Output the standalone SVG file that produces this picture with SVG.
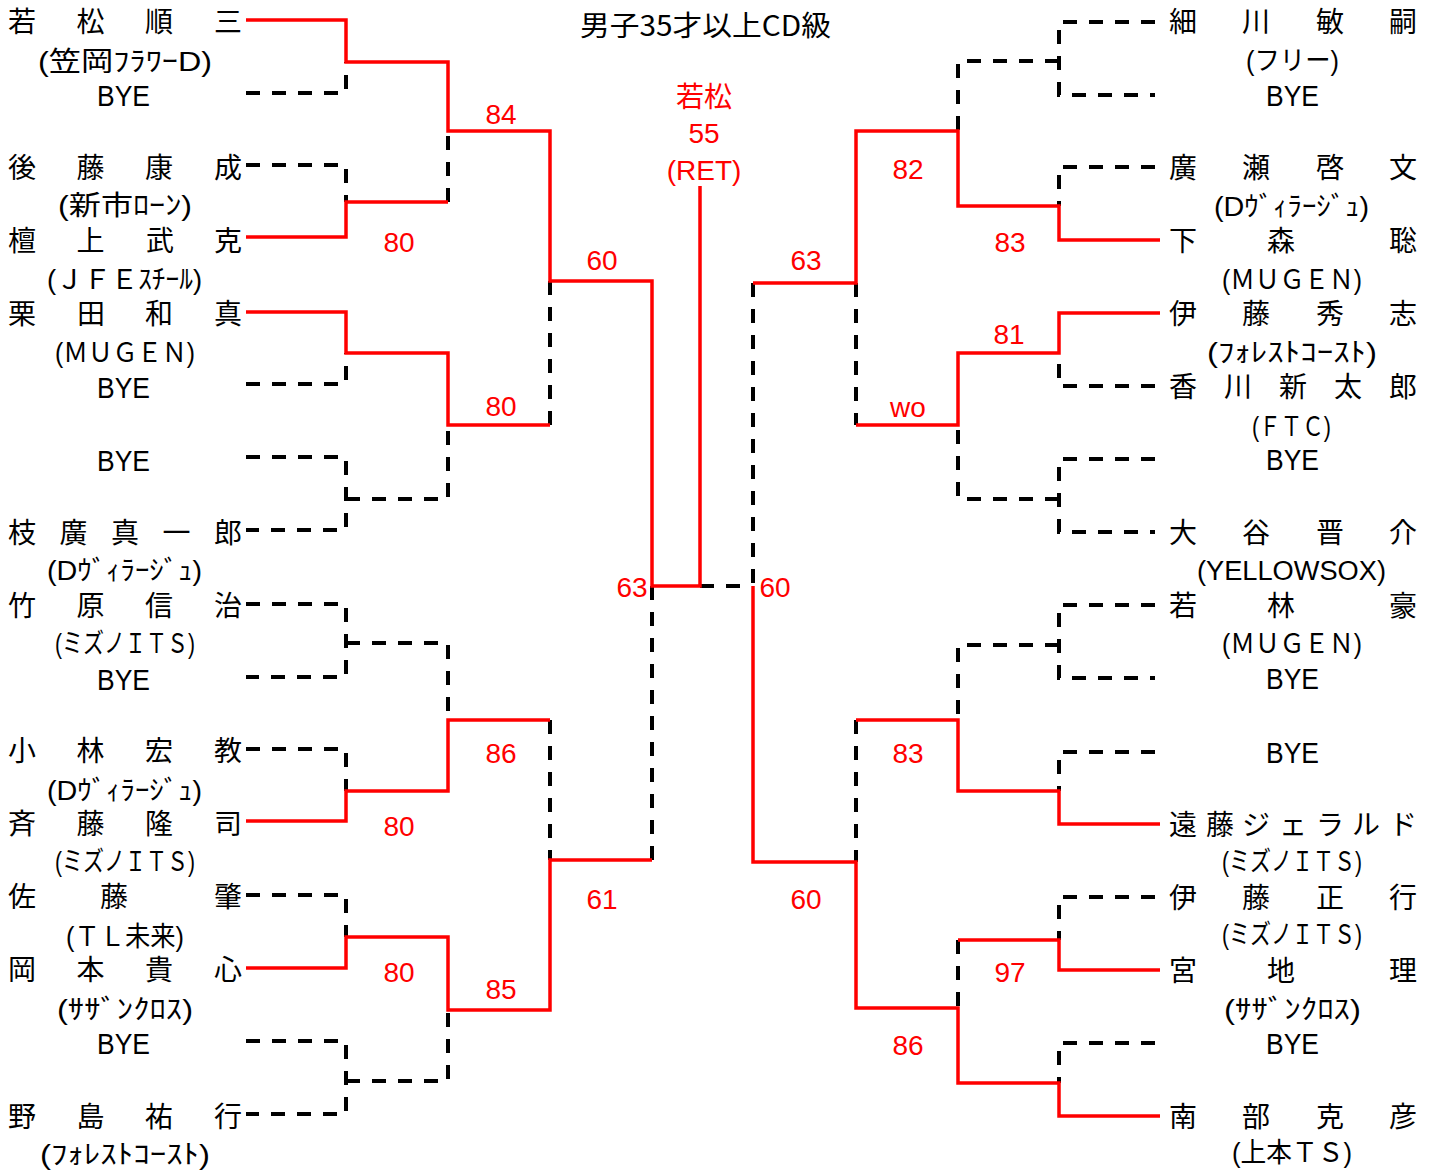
<svg xmlns="http://www.w3.org/2000/svg" width="1434" height="1175" viewBox="0 0 1434 1175">
<style>
.nm{font-family:"Liberation Sans","Noto Sans CJK JP","Noto Sans CJK SC",sans-serif;font-size:28px;fill:#000;dominant-baseline:central}
.af{font-family:"Liberation Sans","Noto Sans CJK JP","Noto Sans CJK SC",sans-serif;font-size:27px;fill:#000;dominant-baseline:central}
.bye{font-family:"Liberation Sans",Arial,sans-serif;font-size:29px;fill:#000;dominant-baseline:central}
.sc{font-family:"Liberation Sans",Arial,sans-serif;font-size:28px;fill:#f00;dominant-baseline:central;text-anchor:middle}
.scj{font-family:"Liberation Sans","Noto Sans CJK JP",sans-serif;font-size:28px;fill:#f00;dominant-baseline:central;text-anchor:middle}
.ttl{font-family:"Noto Sans CJK JP",sans-serif;font-size:28px;fill:#000;dominant-baseline:central}
.win{fill:none;stroke:#f00;stroke-width:3.5;stroke-linejoin:miter}
.lose{fill:none;stroke:#000;stroke-width:4;stroke-dasharray:14 12}
</style>
<rect width="1434" height="1175" fill="#fff"/>
<g id="title"><text class="ttl" x="580" y="24" textLength="251" lengthAdjust="spacingAndGlyphs">男子35才以上CD級</text></g>
<g id="connectors">
<g id="losers">
<path class="lose" d="M246,93 H346 V62"/>
<path class="lose" d="M246,165 H346 V202"/>
<path class="lose" d="M448,202 V131"/>
<path class="lose" d="M246,384 H346 V353"/>
<path class="lose" d="M246,457 H346 V530 H246"/>
<path class="lose" d="M346,499 H448 V425"/>
<path class="lose" d="M550,281 V425"/>
<path class="lose" d="M246,604 H346 V677 H246"/>
<path class="lose" d="M346,643 H448 V720"/>
<path class="lose" d="M246,749 H346 V791"/>
<path class="lose" d="M550,720 V860"/>
<path class="lose" d="M246,895 H346 V937"/>
<path class="lose" d="M246,1041 H346 V1114 H246"/>
<path class="lose" d="M346,1081 H448 V1010"/>
<path class="lose" d="M652,586 V860"/>
<path class="lose" d="M700,586 H752"/>
<path class="lose" d="M1155,22 H1059 V95 H1155"/>
<path class="lose" d="M1059,61 H958 V131"/>
<path class="lose" d="M1155,167 H1059 V206"/>
<path class="lose" d="M856,283 V425"/>
<path class="lose" d="M1155,386 H1059 V353"/>
<path class="lose" d="M1155,459 H1059 V532 H1155"/>
<path class="lose" d="M1059,499 H958 V425"/>
<path class="lose" d="M753,283 V586"/>
<path class="lose" d="M1155,605 H1059 V678 H1155"/>
<path class="lose" d="M1059,645 H958 V720"/>
<path class="lose" d="M1155,752 H1059 V791"/>
<path class="lose" d="M856,720 V862"/>
<path class="lose" d="M1155,897 H1059 V940"/>
<path class="lose" d="M958,940 V1008"/>
<path class="lose" d="M1155,1043 H1059 V1083"/>
</g>
<g id="winners">
<path class="win" d="M246,20 H346 V62 H448 V131 H550 V281 H652 V586 H700 V186"/>
<path class="win" d="M246,237 H346 V202 H448"/>
<path class="win" d="M246,312 H346 V353 H448 V425 H550"/>
<path class="win" d="M246,821 H346 V791 H448 V720 H550"/>
<path class="win" d="M246,968 H346 V937 H448 V1010 H550 V860 H652"/>
<path class="win" d="M1160,240 H1059 V206 H958 V131 H856 V283 H753"/>
<path class="win" d="M1160,313 H1059 V353 H958 V425 H856"/>
<path class="win" d="M1160,824 H1059 V791 H958 V720 H856"/>
<path class="win" d="M1160,970 H1059 V940 H958"/>
<path class="win" d="M1160,1116 H1059 V1083 H958 V1008 H856 V862 H753 V586"/>
</g>
<g id="scores">
<text class="sc" x="501" y="114">84</text>
<text class="sc" x="399" y="242">80</text>
<text class="sc" x="602" y="260">60</text>
<text class="sc" x="501" y="406">80</text>
<text class="sc" x="501" y="753">86</text>
<text class="sc" x="399" y="826">80</text>
<text class="sc" x="399" y="972">80</text>
<text class="sc" x="501" y="989">85</text>
<text class="sc" x="602" y="899">61</text>
<text class="sc" x="632" y="587">63</text>
<text class="sc" x="908" y="169">82</text>
<text class="sc" x="1010" y="242">83</text>
<text class="sc" x="806" y="260">63</text>
<text class="sc" x="1009" y="334">81</text>
<text class="sc" x="908" y="407">wo</text>
<text class="sc" x="775" y="587">60</text>
<text class="sc" x="908" y="753">83</text>
<text class="sc" x="1010" y="972">97</text>
<text class="sc" x="908" y="1045">86</text>
<text class="sc" x="806" y="899">60</text>
</g>
</g>
<g id="champion">
<text class="scj" x="704" y="97">若松</text>
<text class="sc" x="704" y="133">55</text>
<text class="sc" x="704" y="170">(RET)</text>
</g>
<g id="L1"><text class="nm" x="8 76.5 145 214" y="22">若松順三</text><text class="af" x="38" y="62" textLength="174" lengthAdjust="spacingAndGlyphs">(笠岡ﾌﾗﾜｰD)</text></g>
<g id="L2"><text class="bye" x="97" y="96" textLength="53" lengthAdjust="spacingAndGlyphs">BYE</text></g>
<g id="L3"><text class="nm" x="8 76.5 145 214" y="168">後藤康成</text><text class="af" x="58" y="206" textLength="134" lengthAdjust="spacingAndGlyphs">(新市ﾛｰﾝ)</text></g>
<g id="L4"><text class="nm" x="8 76.5 146 214" y="241">檀上武克</text><text class="af" x="47" y="280" textLength="155" lengthAdjust="spacingAndGlyphs">(ＪＦＥｽﾁｰﾙ)</text></g>
<g id="L5"><text class="nm" x="8 77 145 214" y="314">栗田和真</text><text class="af" x="55" y="353" textLength="140" lengthAdjust="spacingAndGlyphs">(ＭＵＧＥＮ)</text></g>
<g id="L6"><text class="bye" x="97" y="388" textLength="53" lengthAdjust="spacingAndGlyphs">BYE</text></g>
<g id="L7"><text class="bye" x="97" y="461" textLength="53" lengthAdjust="spacingAndGlyphs">BYE</text></g>
<g id="L8"><text class="nm" x="8 59.5 111 162.5 214" y="533">枝廣真一郎</text><text class="af" x="47" y="571" textLength="155" lengthAdjust="spacingAndGlyphs">(Dｳﾞｨﾗｰｼﾞｭ)</text></g>
<g id="L9"><text class="nm" x="8 76.5 145 214" y="606">竹原信治</text><text class="af" x="55" y="644" textLength="140" lengthAdjust="spacingAndGlyphs">(ミズノＩＴＳ)</text></g>
<g id="L10"><text class="bye" x="97" y="680" textLength="53" lengthAdjust="spacingAndGlyphs">BYE</text></g>
<g id="L11"><text class="nm" x="8 76.5 145 214" y="751">小林宏教</text><text class="af" x="47" y="791" textLength="155" lengthAdjust="spacingAndGlyphs">(Dｳﾞｨﾗｰｼﾞｭ)</text></g>
<g id="L12"><text class="nm" x="8 76.5 145 214" y="824">斉藤隆司</text><text class="af" x="55" y="862" textLength="140" lengthAdjust="spacingAndGlyphs">(ミズノＩＴＳ)</text></g>
<g id="L13"><text class="nm" x="8 100 214" y="897">佐藤肇</text><text class="af" x="66" y="937" textLength="118" lengthAdjust="spacingAndGlyphs">(ＴＬ未来)</text></g>
<g id="L14"><text class="nm" x="8 76.5 145 214" y="970">岡本貴心</text><text class="af" x="57" y="1010" textLength="136" lengthAdjust="spacingAndGlyphs">(ｻｻﾞﾝｸﾛｽ)</text></g>
<g id="L15"><text class="bye" x="97" y="1044" textLength="53" lengthAdjust="spacingAndGlyphs">BYE</text></g>
<g id="L16"><text class="nm" x="8 76.5 145 214" y="1117">野島祐行</text><text class="af" x="40" y="1155" textLength="170" lengthAdjust="spacingAndGlyphs">(ﾌｫﾚｽﾄｺｰｽﾄ)</text></g>
<g id="R1"><text class="nm" x="1169 1242 1316 1389" y="22">細川敏嗣</text><text class="af" x="1246" y="61" textLength="93" lengthAdjust="spacingAndGlyphs">(フリー)</text></g>
<g id="R2"><text class="bye" x="1266" y="96" textLength="53" lengthAdjust="spacingAndGlyphs">BYE</text></g>
<g id="R3"><text class="nm" x="1169 1242 1316 1389" y="168">廣瀬啓文</text><text class="af" x="1214" y="207" textLength="155" lengthAdjust="spacingAndGlyphs">(Dｳﾞｨﾗｰｼﾞｭ)</text></g>
<g id="R4"><text class="nm" x="1169 1267 1389" y="241">下森聡</text><text class="af" x="1222" y="280" textLength="140" lengthAdjust="spacingAndGlyphs">(ＭＵＧＥＮ)</text></g>
<g id="R5"><text class="nm" x="1169 1242 1316 1389" y="314">伊藤秀志</text><text class="af" x="1207" y="353" textLength="170" lengthAdjust="spacingAndGlyphs">(ﾌｫﾚｽﾄｺｰｽﾄ)</text></g>
<g id="R6"><text class="nm" x="1169 1224 1279 1334 1389" y="387">香川新太郎</text><text class="af" x="1252" y="427" textLength="79" lengthAdjust="spacingAndGlyphs">(ＦＴＣ)</text></g>
<g id="R7"><text class="bye" x="1266" y="460" textLength="53" lengthAdjust="spacingAndGlyphs">BYE</text></g>
<g id="R8"><text class="nm" x="1169 1242 1316 1389" y="533">大谷晋介</text><text class="af" x="1197" y="571" textLength="189" lengthAdjust="spacingAndGlyphs">(YELLOWSOX)</text></g>
<g id="R9"><text class="nm" x="1169 1267 1389" y="606">若林豪</text><text class="af" x="1222" y="644" textLength="140" lengthAdjust="spacingAndGlyphs">(ＭＵＧＥＮ)</text></g>
<g id="R10"><text class="bye" x="1266" y="679" textLength="53" lengthAdjust="spacingAndGlyphs">BYE</text></g>
<g id="R11"><text class="bye" x="1266" y="753" textLength="53" lengthAdjust="spacingAndGlyphs">BYE</text></g>
<g id="R12"><text class="nm" x="1169 1206 1242 1279 1316 1352 1389" y="825">遠藤ジェラルド</text><text class="af" x="1222" y="862" textLength="140" lengthAdjust="spacingAndGlyphs">(ミズノＩＴＳ)</text></g>
<g id="R13"><text class="nm" x="1169 1242 1316 1389" y="898">伊藤正行</text><text class="af" x="1222" y="935" textLength="140" lengthAdjust="spacingAndGlyphs">(ミズノＩＴＳ)</text></g>
<g id="R14"><text class="nm" x="1169 1267 1389" y="971">宮地理</text><text class="af" x="1224" y="1010" textLength="137" lengthAdjust="spacingAndGlyphs">(ｻｻﾞﾝｸﾛｽ)</text></g>
<g id="R15"><text class="bye" x="1266" y="1044" textLength="53" lengthAdjust="spacingAndGlyphs">BYE</text></g>
<g id="R16"><text class="nm" x="1169 1242 1316 1389" y="1117">南部克彦</text><text class="af" x="1232" y="1153" textLength="120" lengthAdjust="spacingAndGlyphs">(上本ＴＳ)</text></g>
</svg>
